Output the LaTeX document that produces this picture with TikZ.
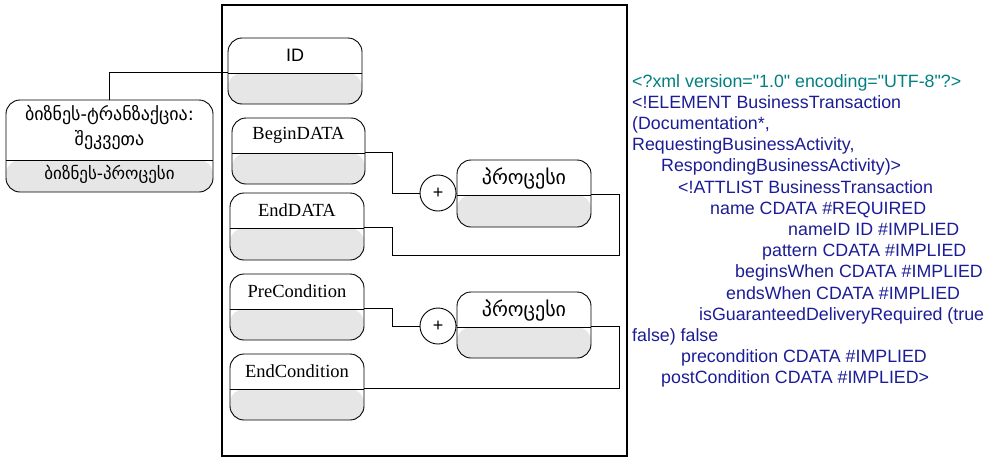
\documentclass[tikz,border=0pt]{standalone}
\usepackage{fontspec}
\setmainfont{Liberation Serif}
\newfontfamily\arialfont{Liberation Sans}
\newfontfamily\geofont{DejaVu Sans}
\usetikzlibrary{calc}
\definecolor{boxgray}{RGB}{230,230,230}
\definecolor{xmlteal}{RGB}{0,128,128}
\definecolor{xmlblue}{RGB}{28,28,150}
\tikzset{
  entbox/.style={draw, rounded corners=14pt, minimum width=134pt, minimum height=66pt,
    inner sep=0pt, line width=0.9pt,
    path picture={
      \fill[boxgray] ([yshift=-#1]path picture bounding box.north west) rectangle (path picture bounding box.south east);
      \draw[line width=0.9pt] ([yshift=-#1]path picture bounding box.north west) -- ([yshift=-#1]path picture bounding box.north east);}},
  entbox/.default=35pt,
  boxlbl/.style={inner sep=0pt, font=\fontsize{18.5}{20}\selectfont},
  geolbl/.style={inner sep=0pt, align=center, font=\geofont\fontsize{18}{25}\selectfont},
  plus/.style={draw, circle, minimum size=36pt, inner sep=0pt, fill=white, line width=0.9pt,
    font=\arialfont\fontsize{18}{18}\selectfont},
  link/.style={line width=0.9pt},
  xmltxt/.style={anchor=base west, inner sep=0pt, text=xmlblue,
    font=\arialfont\fontsize{17.8}{21}\selectfont}
}
\begin{document}
\begin{tikzpicture}[x=1pt,y=-1pt]
\useasboundingbox (0,0) rectangle (987,458);
% container
\draw[line width=1.2pt] (222,5) rectangle (627,456);

% left element
\node[entbox=60pt, minimum width=207pt, minimum height=92pt] (bt) at (109.5,146) {};
\node[geolbl] (btt) at ([yshift=-28pt]bt.north) {ბიზნეს-ტრანზაქცია:\\შეკვეთა};
\node[geolbl, font=\geofont\fontsize{17}{20}\selectfont] (btb) at ([yshift=-75pt]bt.north) {ბიზნეს-პროცესი};

% attributes
\node[entbox] (id) at (295,71) {};
\node[boxlbl, font=\arialfont\fontsize{18}{20}\selectfont] (idt) at ([yshift=-17.5pt]id.north) {ID};
\node[entbox, minimum width=133pt] (bd) at (298.5,151) {};
\node[boxlbl] (bdt) at ([yshift=-17.5pt]bd.north) {BeginDATA};
\node[entbox, minimum height=67pt] (ed) at (297,226.5) {};
\node[boxlbl] (edt) at ([yshift=-17.5pt]ed.north) {EndDATA};
\node[entbox] (pc) at (297,307) {};
\node[boxlbl] (pct) at ([yshift=-17.5pt]pc.north) {PreCondition};
\node[entbox] (ec) at (297,387) {};
\node[boxlbl] (ect) at ([yshift=-17.5pt]ec.north) {EndCondition};

% processes
\node[plus] (p1) at (438,193) {+};
\node[entbox, minimum height=67pt] (pr1) at (524,193.5) {};
\node[geolbl, font=\geofont\fontsize{20}{22}\selectfont] (pr1t) at ([yshift=-19pt]pr1.north) {პროცესი};
\node[plus] (p2) at (438,326) {+};
\node[entbox] (pr2) at (524,325) {};
\node[geolbl, font=\geofont\fontsize{20}{22}\selectfont] (pr2t) at ([yshift=-19pt]pr2.north) {პროცესი};

% connectors
\coordinate (loop1) at (392,255);
\draw[link] (bt.north) |- ([yshift=-35pt]id.north west);
\draw[link] ([yshift=-35pt]bd.north east) -- ++(27,0) |- (p1.west);
\draw[link] (p1.east) -- (pr1.west);
\draw[link] ([yshift=-35pt]pr1.north east) -- ++(28,0) |- (loop1) |- ([yshift=-35pt]ed.north east);
\draw[link] ([yshift=-35pt]pc.north east) -- ++(28,0) |- (p2.west);
\draw[link] (p2.east) -- (pr2.west);
\draw[link] ([yshift=-35pt]pr2.north east) -- ++(28,0) |- ([yshift=-35pt]ec.north east);

% xml text
\node[xmltxt, text=xmlteal] (x1) at (632,87) {<?xml version="1.0" encoding="UTF-8"?>};
\node[xmltxt] (x2) at (632,108.2) {<!ELEMENT BusinessTransaction};
\node[xmltxt] (x3) at (632,129.4) {(Documentation*,};
\node[xmltxt] (x4) at (632,150.6) {RequestingBusinessActivity,};
\node[xmltxt] (x5) at (661,171.8) {RespondingBusinessActivity)>};
\node[xmltxt] (x6) at (678,193) {<!ATTLIST BusinessTransaction};
\node[xmltxt] (x7) at (710,214.2) {name CDATA \#REQUIRED};
\node[xmltxt] (x8) at (788,235.4) {nameID ID \#IMPLIED};
\node[xmltxt] (x9) at (762,256.6) {pattern CDATA \#IMPLIED};
\node[xmltxt] (x10) at (735,277.8) {beginsWhen CDATA \#IMPLIED};
\node[xmltxt] (x11) at (726,299) {endsWhen CDATA \#IMPLIED};
\node[xmltxt] (x12) at (699,320.2) {isGuaranteedDeliveryRequired (true};
\node[xmltxt] (x13) at (632,341.4) {false) false};
\node[xmltxt] (x14) at (681,362.6) {precondition CDATA \#IMPLIED};
\node[xmltxt] (x15) at (661,383.8) {postCondition CDATA \#IMPLIED>};
\end{tikzpicture}
\end{document}
